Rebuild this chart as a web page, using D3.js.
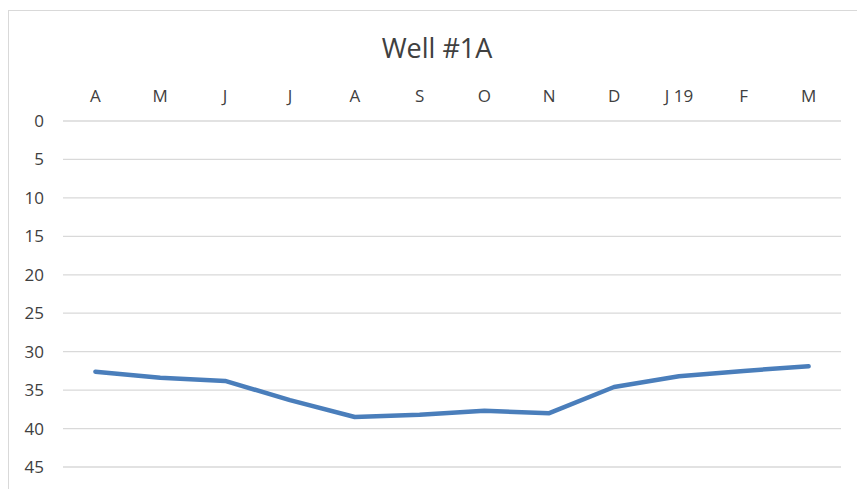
<!DOCTYPE html>
<html>
<head>
  <meta charset="utf-8">
  <title>Well #1A</title>
  <script src="https://d3js.org/d3.v7.min.js"></script>
  <style>
    body { margin: 0; background: #fff; }
    svg text { font-family: "Open Sans", sans-serif; fill: #404040; }
    .grid line { stroke: #d9d9d9; stroke-width: 1.3; }
    .axis path, .axis line { display: none; }
  </style>
</head>
<body>
<script>
// month categories (top axis) and depth values
var months = ['A', 'M', 'J', 'J', 'A', 'S', 'O', 'N', 'D', 'J 19', 'F', 'M'];
var depth = [32.6, 33.4, 33.8, 36.3, 38.5, 38.2, 37.7, 38.0, 34.6, 33.2, 32.5, 31.9];
var yTicks = [0, 5, 10, 15, 20, 25, 30, 35, 40, 45];

var W = 857, H = 489;
var LEFT = 63, RIGHT = 841, TOP = 121, BOTTOM = 467;

var svg = d3.select('body').append('svg')
  .attr('width', W)
  .attr('height', H);

// chart area border
svg.append('rect')
  .attr('x', 8.5).attr('y', 10.5)
  .attr('width', W + 20).attr('height', H + 20)
  .attr('fill', 'none')
  .attr('stroke', '#d9d9d9');

svg.append('text')
  .attr('x', 437).attr('y', 58)
  .attr('text-anchor', 'middle')
  .style('font-size', '27px')
  .text('Well #1A');

var idx = d3.range(months.length);
var x = d3.scaleBand().domain(idx).range([LEFT, RIGHT]);
var y = d3.scaleLinear().domain([0, 45]).range([TOP, BOTTOM]);

// gridlines
svg.append('g').attr('class', 'grid')
  .selectAll('line').data(yTicks).enter().append('line')
  .attr('x1', LEFT).attr('x2', RIGHT)
  .attr('y1', function(d) { return y(d); })
  .attr('y2', function(d) { return y(d); });

// y axis (reversed)
var yAxisG = svg.append('g').attr('class', 'axis')
  .attr('transform', 'translate(44,0)')
  .call(d3.axisLeft(y).tickValues(yTicks).tickSize(0).tickPadding(0));
yAxisG.attr('font-size', null).attr('font-family', null);
yAxisG.selectAll('text').style('font-size', '17px');

// x axis on top
var xAxisG = svg.append('g').attr('class', 'axis')
  .attr('transform', 'translate(0,102)')
  .call(d3.axisTop(x).tickSize(0).tickPadding(0).tickFormat(function(i) { return months[i]; }));
xAxisG.attr('font-size', null).attr('font-family', null);
xAxisG.selectAll('text').attr('dy', 0).style('font-size', '17px');

var line = d3.line()
  .x(function(d, i) { return x(i) + x.bandwidth() / 2; })
  .y(function(d) { return y(d); });

svg.append('path')
  .datum(depth)
  .attr('d', line)
  .attr('fill', 'none')
  .attr('stroke', '#4a7ebb')
  .attr('stroke-width', 4.5)
  .attr('stroke-linecap', 'round')
  .attr('stroke-linejoin', 'round');
</script>
</body>
</html>
